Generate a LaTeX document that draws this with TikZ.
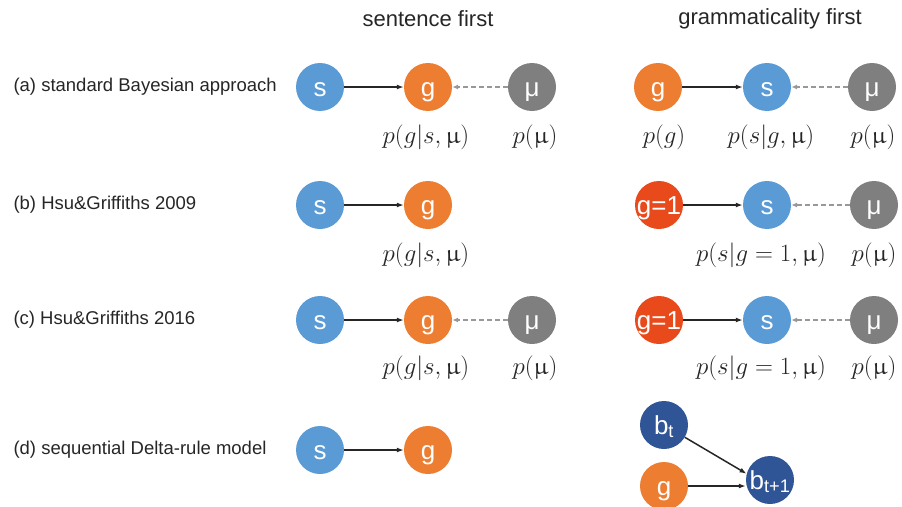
\documentclass[tikz,border=0pt]{standalone}
\usepackage{fontspec}
\usepackage{upgreek}
\setmainfont{Liberation Sans}
\usetikzlibrary{arrows.meta}

\definecolor{sblue}{RGB}{91,155,213}
\definecolor{gorange}{RGB}{237,125,49}
\definecolor{mugray}{RGB}{127,127,127}
\definecolor{gred}{RGB}{232,74,28}
\definecolor{bblue}{RGB}{47,85,151}
\definecolor{ink}{RGB}{38,38,38}

\tikzset{
  var/.style={circle, minimum size=48pt, inner sep=0pt, text=white,
    text height=23.5pt, text depth=5.5pt,
    font=\fontsize{26}{26}\selectfont},
  svar/.style={var, fill=sblue},
  gvar/.style={var, fill=gorange},
  muvar/.style={var, fill=mugray},
  gone/.style={var, fill=gred, inner sep=-4pt},
  bvar/.style={var, fill=bblue, inner sep=-4pt},
  prob/.style={font=\fontsize{24}{26}\selectfont, text=ink},
  cause/.style={-{Latex[length=7pt,width=5pt]}, line width=1.5pt, ink},
  prior/.style={-{Latex[length=6pt,width=5pt]}, line width=1.5pt, mugray!80,
    dash pattern=on 5pt off 3pt},
  rowlab/.style={anchor=west, font=\fontsize{18.5}{20}\selectfont, text=ink},
  head/.style={font=\fontsize{22}{24}\selectfont, text=ink}
}

\begin{document}
\begin{tikzpicture}[x=1pt, y=-1pt]
  \useasboundingbox (0,0) rectangle (902,506);

  % Column headings
  \node[head] (hsen) at (428,19) {sentence first};
  \node[head] (hgram) at (770,19) {grammaticality first};

  % Row labels
  \foreach \y/\nm/\lab in {87/rowa/{(a) standard Bayesian approach},
                           205/rowb/{(b) Hsu\&Griffiths 2009},
                           320/rowc/{(c) Hsu\&Griffiths 2016},
                           450/rowd/{(d) sequential Delta-rule model}} {
    \node[rowlab] (\nm) at (10,\y) {\lab};
  }

  % (a) sentence first
  \node[svar] (sa) at (320,87) {s};
  \node[gvar] (ga) at (428,87) {g};
  \node[muvar] (ma) at (532,87) {μ};
  \draw[cause] (sa) -- (ga);
  \draw[prior] (ma) -- (ga);
  \node[prob] (pga) at (426,137) {$p(g|s,\upmu)$};
  \node[prob] (pma) at (535,137) {$p(\upmu)$};

  % (a) grammaticality first
  \node[gvar] (gA) at (658,87) {g};
  \node[svar] (sA) at (767,87) {s};
  \node[muvar] (mA) at (872,87) {μ};
  \draw[cause] (gA) -- (sA);
  \draw[prior] (mA) -- (sA);
  \node[prob] (pgA) at (664,137) {$p(g)$};
  \node[prob] (psA) at (771,137) {$p(s|g,\upmu)$};
  \node[prob] (pmA) at (873,137) {$p(\upmu)$};

  % (b) sentence first
  \node[svar] (sb) at (320,205) {s};
  \node[gvar] (gb) at (428,205) {g};
  \draw[cause] (sb) -- (gb);
  \node[prob] (pgb) at (426,255) {$p(g|s,\upmu)$};

  % (b) grammaticality first
  \node[gone] (gB) at (659,205) {g=1};
  \node[svar] (sB) at (767,205) {s};
  \node[muvar] (mB) at (874,205) {μ};
  \draw[cause] (gB) -- (sB);
  \draw[prior] (mB) -- (sB);
  \node[prob] (psB) at (761,255) {$p(s|g=1,\upmu)$};
  \node[prob] (pmB) at (874,255) {$p(\upmu)$};

  % (c) sentence first
  \node[svar] (sc) at (320,320) {s};
  \node[gvar] (gc) at (428,320) {g};
  \node[muvar] (mc) at (532,320) {μ};
  \draw[cause] (sc) -- (gc);
  \draw[prior] (mc) -- (gc);
  \node[prob] (pgc) at (426,368) {$p(g|s,\upmu)$};
  \node[prob] (pmc) at (535,368) {$p(\upmu)$};

  % (c) grammaticality first
  \node[gone] (gC) at (659,320) {g=1};
  \node[svar] (sC) at (767,320) {s};
  \node[muvar] (mC) at (874,320) {μ};
  \draw[cause] (gC) -- (sC);
  \draw[prior] (mC) -- (sC);
  \node[prob] (psC) at (761,368) {$p(s|g=1,\upmu)$};
  \node[prob] (pmC) at (874,368) {$p(\upmu)$};

  % (d) sentence first
  \node[svar] (sd) at (320,450) {s};
  \node[gvar] (gd) at (428,450) {g};
  \draw[cause] (sd) -- (gd);

  % (d) delta rule
  \node[bvar] (bt) at (664,425) {b\textsubscript{t}};
  \node[gvar] (gD) at (664,486) {g};
  \node[bvar] (btn) at (770,480) {b\textsubscript{t+1}};
  \draw[cause] (bt) -- (btn.165);
  \draw[cause] (gD.east) -- (gD.east -| btn.west);
\end{tikzpicture}
\end{document}
